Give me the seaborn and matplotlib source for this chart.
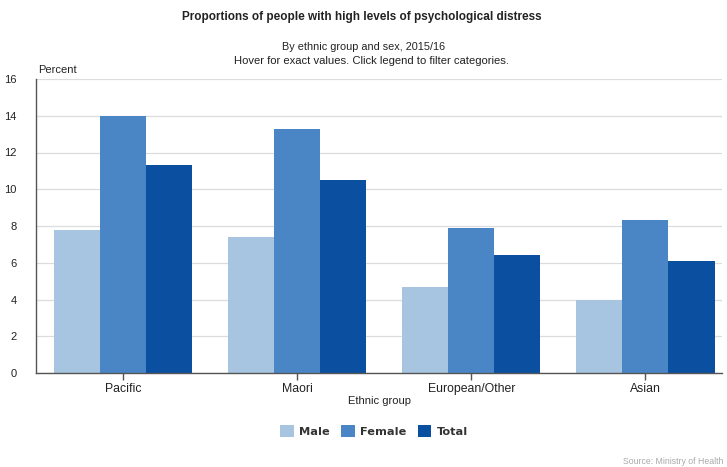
import matplotlib
matplotlib.use("Agg")
import matplotlib.pyplot as plt
from matplotlib.patches import Patch
import seaborn as sns
import pandas as pd

groups = ["Pacific", "Maori", "European/Other", "Asian"]
sexes = ["Male", "Female", "Total"]
male = [7.8, 7.4, 4.7, 4.0]
female = [14.0, 13.3, 7.9, 8.3]
total = [11.3, 10.5, 6.4, 6.1]
colors = ["#a7c4e0", "#4a86c6", "#0b4fa1"]

rows = []
for s, vals in zip(sexes, [male, female, total]):
    for g, v in zip(groups, vals):
        rows.append({"Ethnic group": g, "Sex": s, "Percent": v})
df = pd.DataFrame(rows)

sns.set_theme(style="white")
plt.rcParams["font.family"] = ["Liberation Sans", "DejaVu Sans"]

fig = plt.figure(figsize=(7.27, 4.67), dpi=100)
ax = fig.add_axes([36 / 727, 1 - 373 / 467, 686 / 727, 294 / 467])

sns.barplot(data=df, x="Ethnic group", y="Percent", hue="Sex",
            hue_order=sexes, palette=colors, width=0.795, saturation=1,
            errorbar=None, legend=False, ax=ax, edgecolor="none")

ax.set_ylim(0, 16)
ax.set_xlim(-0.5, 3.44)
ax.set_yticks(range(0, 17, 2))
ax.yaxis.grid(True, color="#dcdcdc", linewidth=0.9)
ax.set_axisbelow(True)
for side in ["top", "right"]:
    ax.spines[side].set_visible(False)
for side in ["left", "bottom"]:
    ax.spines[side].set_color("#555555")
    ax.spines[side].set_linewidth(1.0)
ax.tick_params(axis="y", length=0, labelsize=8, pad=14, colors="#222222")
ax.tick_params(axis="x", length=5, width=1, color="#555555", bottom=True,
               labelsize=8.8, pad=2, colors="#222222")
ax.set_ylabel("")
ax.set_xlabel("Ethnic group", fontsize=8, labelpad=1, color="#222222")

fig.text(0.5 - 2 / 727, 1 - 17 / 467, "Proportions of people with high levels of psychological distress",
         ha="center", va="center", fontsize=8.5, fontweight="bold", color="#222222")
fig.text(364 / 727, 1 - 47 / 467, "By ethnic group and sex, 2015/16",
         ha="center", va="center", fontsize=7.8, color="#222222")
fig.text(371 / 727, 1 - 61 / 467, "Hover for exact values. Click legend to filter categories.",
         ha="center", va="center", fontsize=8.1, color="#222222")
fig.text(38 / 727, 1 - 70 / 467, "Percent", ha="left", va="center",
         fontsize=8, color="#222222")

handles = [Patch(facecolor=c, edgecolor="none", label=s) for s, c in zip(sexes, colors)]
fig.legend(handles=handles, loc="center", bbox_to_anchor=(374 / 727, 1 - 431 / 467),
           ncol=3, frameon=False, handlelength=1.2, handleheight=1.2,
           handletextpad=0.45, columnspacing=1.0,
           prop={"family": "DejaVu Sans", "weight": "bold", "size": 8.2},
           labelcolor="#333333")

fig.text(723 / 727, 1 - 461 / 467, "Source: Ministry of Health", ha="right", va="center",
         fontsize=6.3, color="#aaaaaa")

fig.savefig("out.png", dpi=100)
